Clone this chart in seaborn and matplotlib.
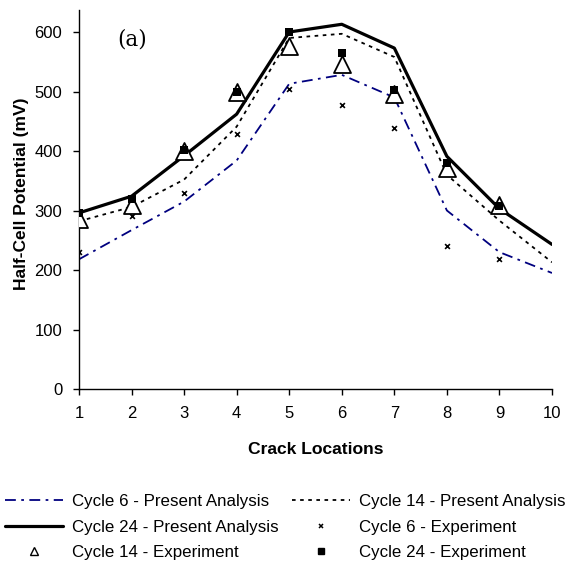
import numpy as np
import pandas as pd
import seaborn as sns
import matplotlib.pyplot as plt
from matplotlib.lines import Line2D

# crack locations along the beam
locations = [1, 2, 3, 4, 5, 6, 7, 8, 9, 10]
cycle6_model = [218, 267, 315, 384, 513, 528, 490, 300, 230, 195]
cycle14_model = [282, 306, 352, 441, 590, 597, 558, 360, 283, 213]
cycle24_model = [296, 324, 392, 462, 600, 613, 573, 391, 303, 243]

# measured values (no reading at location 10)
exp_locations = [1, 2, 3, 4, 5, 6, 7, 8, 9]
cycle6_exp = [230, 290, 329, 429, 504, 478, 439, 240, 219]
cycle14_exp = [286, 310, 400, 500, 577, 547, 496, 371, 310]
cycle24_exp = [296, 319, 401, 500, 600, 564, 503, 380, 308]

sns.set_style("ticks")
plt.rcParams['font.family'] = ['Liberation Sans', 'DejaVu Sans']
plt.rcParams['font.size'] = 12
plt.rcParams['text.color'] = 'black'
plt.rcParams['axes.labelcolor'] = 'black'

navy = '#00007F'
fig = plt.figure(figsize=(5.66, 5.67), dpi=100)
ax = fig.add_axes([79/566, 1-389/567, 473/566, 379/567])

sns.lineplot(x=locations, y=cycle6_model, ax=ax, color=navy, lw=1.3,
             linestyle=(0, (6, 3, 1.5, 3)))
sns.lineplot(x=locations, y=cycle14_model, ax=ax, color='black', lw=1.3,
             linestyle=(0, (2, 2.5)))
sns.lineplot(x=locations, y=cycle24_model, ax=ax, color='black', lw=2.3)

sns.scatterplot(x=exp_locations, y=cycle6_exp, ax=ax, marker='x', color='black',
                s=12, linewidth=1.2, zorder=4)
sns.scatterplot(x=exp_locations, y=cycle14_exp, ax=ax, marker='^', color='white',
                edgecolor='black', s=150, linewidth=1.3, zorder=4)
sns.scatterplot(x=exp_locations, y=cycle24_exp, ax=ax, marker='s', color='black',
                edgecolor='black', s=30, linewidth=0, zorder=5)

ax.set_xlim(1, 10)
ax.set_ylim(0, 637)
ax.set_xticks(locations)
ax.set_yticks(range(0, 700, 100))
sns.despine(ax=ax)
for sp in ['left', 'bottom']:
    ax.spines[sp].set_linewidth(1.0)
    ax.spines[sp].set_color('black')
ax.tick_params(axis='both', direction='out', length=4, width=1, colors='black',
               labelcolor='black', labelsize=12)
ax.tick_params(axis='x', pad=8.5)
ax.tick_params(axis='y', pad=8)

ax.set_xlabel('Crack Locations', fontweight='bold', fontsize=12.6, color='black')
ax.set_ylabel('Half-Cell Potential (mV)', fontweight='bold', fontsize=12.5, color='black')
ax.xaxis.set_label_coords(0.5, -0.14)
ax.yaxis.set_label_coords(-0.105, 0.514)

ax.text(2.01, 588, '(a)', family='DejaVu Serif', fontsize=15.5, ha='center', va='center',
        color='black')

handles = [
    Line2D([], [], color=navy, lw=1.3, linestyle=(0, (6, 3, 1.5, 3))),
    Line2D([], [], color='black', lw=2.3),
    Line2D([], [], color='black', marker='^', markerfacecolor='white', markersize=5.5,
           markeredgewidth=1, linestyle='none'),
    Line2D([], [], color='black', lw=1.3, linestyle=(0, (2, 2.5))),
    Line2D([], [], color='black', marker='x', markersize=3.5, markeredgewidth=1.1,
           linestyle='none'),
    Line2D([], [], color='black', marker='s', markersize=5, linestyle='none'),
]
labels = ['Cycle 6 - Present Analysis', 'Cycle 24 - Present Analysis', 'Cycle 14 - Experiment',
          'Cycle 14 - Present Analysis', 'Cycle 6 - Experiment', 'Cycle 24 - Experiment']
leg = fig.legend(handles, labels, loc='upper left', bbox_to_anchor=(5/566, 1-494/567),
                 ncol=2, frameon=False, fontsize=12.2, handlelength=3.43, handletextpad=0.53,
                 columnspacing=0.77, labelspacing=0.63, borderpad=0, borderaxespad=0)
for t in leg.get_texts():
    t.set_color('black')

fig.savefig('out.png', dpi=100, facecolor='white')
